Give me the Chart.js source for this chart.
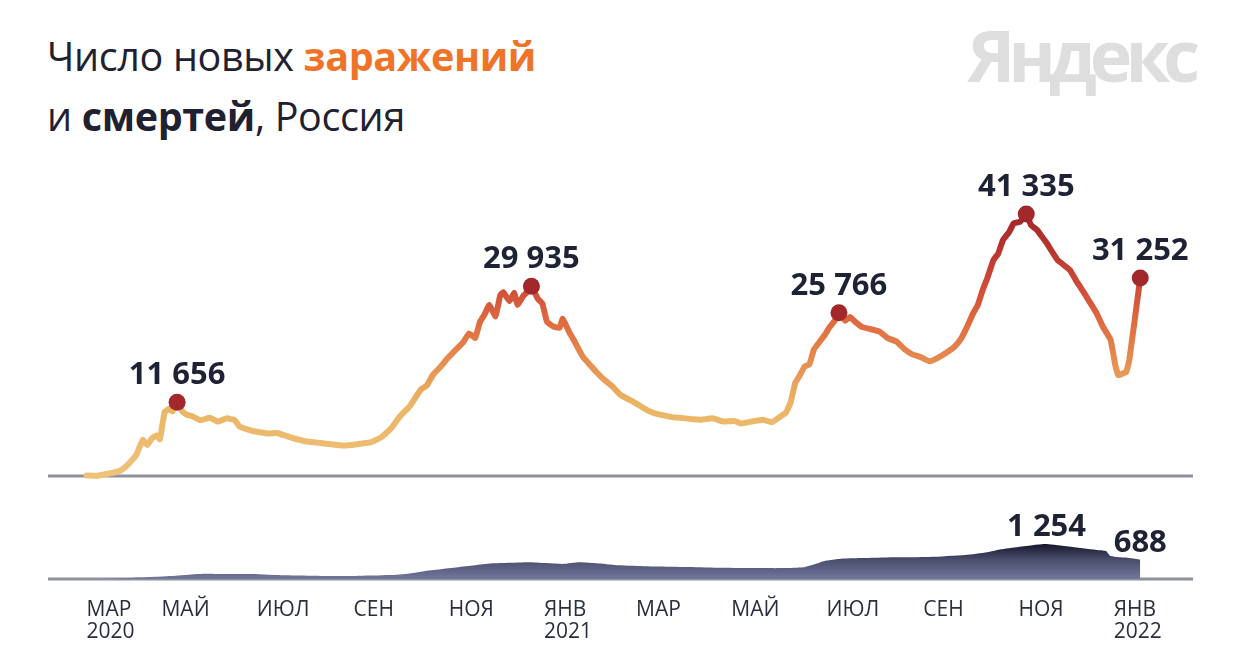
<!DOCTYPE html>
<html lang="ru">
<head>
<meta charset="utf-8">
<title>Число новых заражений и смертей, Россия</title>
<script src="https://cdn.jsdelivr.net/npm/chart.js@4"></script>
<style>
  html, body { margin: 0; padding: 0; background: #fff; }
  body { width: 1242px; height: 658px; position: relative; overflow: hidden; font-family: "Open Sans", "Noto Sans", sans-serif; }
  #title { position: absolute; left: 47px; top: 26px; font-size: 39.5px; line-height: 60px; color: #1f2130; letter-spacing: -0.35px; }
  #title .hot { color: #f07428; font-weight: 700; }
  #title b { font-weight: 700; }
  #logo { position: absolute; right: 49px; top: 18px; font-size: 72px; line-height: 72px; font-weight: 700; color: #dedede; letter-spacing: -7px; }
  canvas { position: absolute; left: 0; top: 0; }
</style>
</head>
<body>
<div id="title">Число новых <span class="hot">заражений</span><br>и <b>смертей</b>, Россия</div>
<div id="logo">Яндекс</div>
<canvas id="chart" width="1242" height="658"></canvas>
<script>
// day index = days since 1 March 2020
var caseDays = [13, 20, 28, 34, 38, 41, 45, 49, 52, 55, 58, 60, 63, 66, 68, 71, 74, 77, 81, 86,
  92, 97, 103, 108, 111, 118, 124, 130, 135, 140, 145, 153, 163, 170, 177, 183, 188, 195, 201, 205,
  209, 214, 220, 224, 227, 231, 235, 240, 244, 249, 254, 258, 262, 265, 268, 271, 275, 278, 280, 284,
  287, 289, 293, 296, 298, 302, 305, 308, 312, 316, 318, 322, 325, 331, 336, 340, 345, 350, 355, 361,
  366, 372, 377, 382, 388, 393, 400, 407, 414, 421, 428, 432, 439, 446, 452, 457, 461, 464, 467, 470,
  473, 476, 479, 482, 486, 489, 492, 495, 499, 502, 506, 510, 515, 521, 526, 532, 537, 542, 547, 553,
  558, 564, 569, 573, 577, 581, 584, 587, 590, 594, 597, 600, 604, 607, 611, 615, 618, 622, 625, 628,
  632, 635, 639, 643, 647, 651, 655, 660, 664, 669, 672, 674, 677, 679, 681, 688];
var cases = [100, 60, 440, 770, 1450, 2200, 3400, 5700, 4900, 6000, 6400, 5800, 10100, 10600, 10200, 11656, 10300, 9700, 9400, 8800,
  9200, 8600, 9100, 8800, 7800, 7200, 6900, 6700, 6800, 6400, 6000, 5500, 5200, 5000, 4800, 4900, 5100, 5300, 6000, 6800,
  7800, 9500, 11000, 12500, 13600, 14300, 16000, 17300, 18500, 19800, 21000, 22500, 21800, 24300, 25500, 27000, 25200, 28500, 29000, 27600,
  28900, 27000, 28500, 29200, 29935, 28000, 27200, 24300, 23600, 23400, 24800, 22800, 21500, 18800, 17400, 16300, 15100, 14100, 12800, 12000,
  11300, 10400, 9900, 9600, 9300, 9200, 9000, 8900, 9100, 8600, 8700, 8300, 8600, 8900, 8500, 9300, 10000, 11600, 14700, 15900,
  17300, 17600, 20000, 21000, 22300, 23500, 24400, 25766, 24500, 25100, 24200, 23500, 23200, 22800, 21800, 21200, 20000, 19200, 18800, 18100,
  18600, 19500, 20400, 21600, 23500, 25700, 27000, 29300, 31200, 34100, 35100, 37200, 38500, 39900, 40100, 41335, 39600, 38800, 37800, 36800,
  35200, 34100, 33300, 32500, 30800, 29300, 27700, 25700, 23600, 21500, 17500, 15900, 16200, 16400, 18300, 31252];
var casePeakDays = [71, 298, 495, 615, 688];

var deathDays = [13, 30, 53, 70, 88, 100, 119, 140, 163, 185, 207, 220, 230, 241, 252, 263, 274, 285, 296, 307,
  318, 329, 340, 351, 370, 399, 420, 443, 460, 472, 480, 487, 495, 509, 530, 553, 576, 590, 598, 610,
  620, 628, 642, 660, 666, 669, 681, 688];
var deaths = [0, 10, 70, 120, 190, 180, 180, 130, 110, 110, 140, 200, 290, 360, 430, 500, 560, 580, 600, 570,
  540, 600, 560, 500, 460, 430, 400, 390, 390, 420, 540, 660, 720, 750, 780, 790, 860, 960, 1060, 1150,
  1220, 1254, 1160, 1040, 1000, 820, 750, 688];
var deathPeakDays = [628, 688];

var monthDays = [0, 61, 122, 184, 245, 306, 365, 426, 487, 549, 610, 671];
var monthLabels = [['МАР', '2020'], ['МАЙ'], ['ИЮЛ'], ['СЕН'], ['НОЯ'], ['ЯНВ', '2021'],
  ['МАР'], ['МАЙ'], ['ИЮЛ'], ['СЕН'], ['НОЯ'], ['ЯНВ', '2022']];

function fmt(n) {
  return String(n).replace(/\B(?=(\d{3})+(?!\d))/g, ' ');
}

function lineGradient(context) {
  var chart = context.chart;
  if (!chart.chartArea) return '#ebb866';
  var y = chart.scales.y;
  var g = chart.ctx.createLinearGradient(0, y.getPixelForValue(0), 0, y.getPixelForValue(41335));
  g.addColorStop(0, '#efc27a');
  g.addColorStop(0.28, '#ebb464');
  g.addColorStop(0.45, '#e68a4e');
  g.addColorStop(0.6, '#de683f');
  g.addColorStop(0.72, '#d04c38');
  g.addColorStop(0.86, '#b8362f');
  g.addColorStop(1, '#a2282a');
  return g;
}

function areaGradient(context) {
  var chart = context.chart;
  if (!chart.chartArea) return '#5d6283';
  var y2 = chart.scales.y2;
  var g = chart.ctx.createLinearGradient(0, y2.getPixelForValue(1254), 0, y2.getPixelForValue(0));
  g.addColorStop(0, '#15172a');
  g.addColorStop(0.45, '#4a4e6d');
  g.addColorStop(1, '#72779c');
  return g;
}

var baselines = {
  id: 'baselines',
  beforeDatasetsDraw: function (chart) {
    var ctx = chart.ctx, a = chart.chartArea;
    ctx.save();
    ctx.strokeStyle = '#8f919d';
    ctx.lineWidth = 3;
    ['y', 'y2'].forEach(function (id) {
      var py = chart.scales[id].getPixelForValue(0);
      ctx.beginPath();
      ctx.moveTo(a.left, py);
      ctx.lineTo(a.right, py);
      ctx.stroke();
    });
    ctx.restore();
  }
};

var labels = {
  id: 'labels',
  afterDatasetsDraw: function (chart) {
    var ctx = chart.ctx;
    ctx.save();
    ctx.fillStyle = '#1f2235';
    ctx.textAlign = 'center';
    ctx.textBaseline = 'alphabetic';
    ctx.font = 'bold 31px "Open Sans"';
    var m0 = chart.getDatasetMeta(0);
    casePeakDays.forEach(function (d) {
      var i = caseDays.indexOf(d);
      var p = m0.data[i];
      ctx.fillText(fmt(cases[i]), p.x, p.y - 18);
    });
    var m1 = chart.getDatasetMeta(1);
    deathPeakDays.forEach(function (d) {
      var i = deathDays.indexOf(d);
      var p = m1.data[i];
      ctx.fillText(fmt(deaths[i]), p.x, p.y - 8);
    });

    // month ticks, left aligned at the start of each month
    var xs = chart.scales.x;
    ctx.font = '21px "Open Sans"';
    ctx.fillStyle = '#2b2e3f';
    ctx.textAlign = 'left';
    monthDays.forEach(function (d, k) {
      var px = xs.getPixelForValue(Math.max(d, caseDays[0]));
      monthLabels[k].forEach(function (t, r) {
        ctx.fillText(t, px, 616 + r * 22);
      });
    });
    ctx.restore();
  }
};

new Chart(document.getElementById('chart'), {
  type: 'line',
  data: {
    datasets: [{
      label: 'Заражения',
      data: caseDays.map(function (d, i) { return { x: d, y: cases[i] }; }),
      yAxisID: 'y',
      borderColor: lineGradient,
      borderWidth: 6,
      borderJoinStyle: 'round',
      borderCapStyle: 'round',
      tension: 0.1,
      fill: false,
      pointRadius: function (c) { return casePeakDays.indexOf(caseDays[c.dataIndex]) >= 0 ? 8.5 : 0; },
      pointBackgroundColor: '#a3282b',
      pointBorderWidth: 0
    }, {
      label: 'Смерти',
      data: deathDays.map(function (d, i) { return { x: d, y: deaths[i] }; }),
      yAxisID: 'y2',
      borderWidth: 0,
      backgroundColor: areaGradient,
      fill: 'origin',
      tension: 0.2,
      pointRadius: 0
    }]
  },
  options: {
    responsive: false,
    animation: false,
    events: [],
    layout: { padding: { left: 48, right: 49, top: 150, bottom: 79 } },
    plugins: { legend: { display: false }, tooltip: { enabled: false } },
    scales: {
      x: { type: 'linear', min: -11.7, max: 721.8, display: false },
      y: { min: -16250, max: 51450, display: false },
      y2: { min: 0, max: 15360, display: false }
    }
  },
  plugins: [baselines, labels]
});
</script>
</body>
</html>
